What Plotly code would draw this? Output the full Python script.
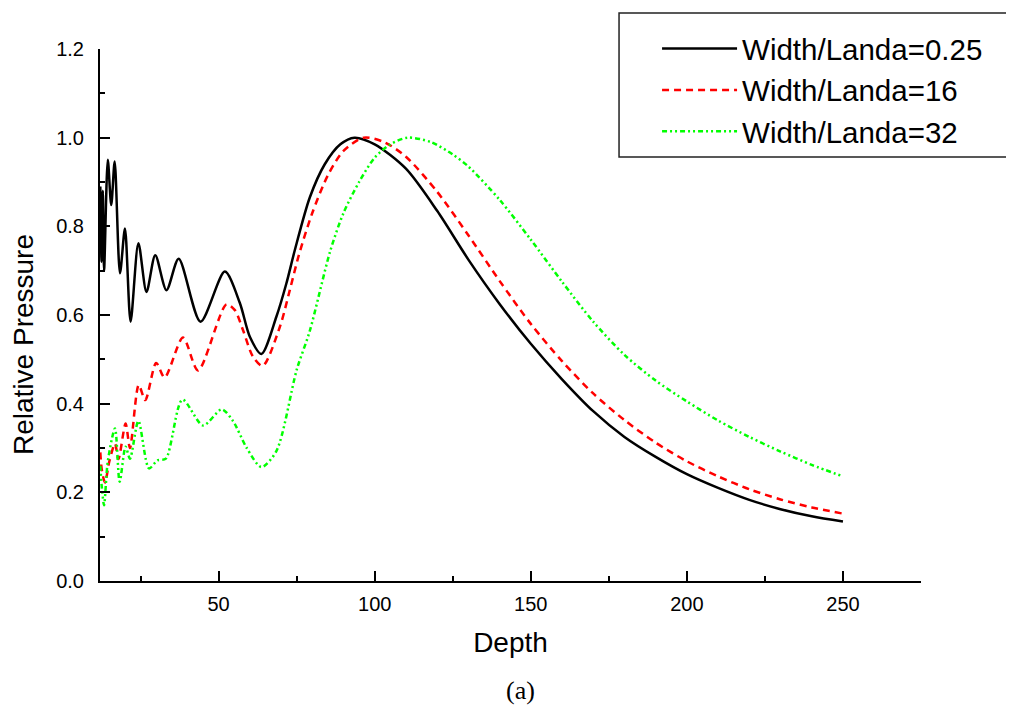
import plotly.graph_objects as go

# Width/Landa = 0.25 (black, solid)
depth_w025 = [12.1, 12.5, 12.9, 13.3, 14.5, 15.6, 16.7, 18.4, 20.0, 21.8, 24.3, 26.9, 29.7,
              33.3, 37.2, 44.2, 52.0, 56.8, 60.0, 63.7, 68.5, 71.7, 74.4, 79.2, 84.0, 89.0,
              93.5, 100, 110, 120, 130, 140, 150, 160, 170, 180, 190, 200, 210, 220, 230, 240, 250]
pressure_w025 = [0.89, 0.72, 0.88, 0.70, 0.95, 0.848, 0.946, 0.694, 0.795, 0.585, 0.762, 0.652, 0.735,
                 0.656, 0.727, 0.585, 0.698, 0.627, 0.551, 0.512, 0.596, 0.671, 0.746, 0.865, 0.94, 0.985,
                 1.0, 0.985, 0.93, 0.835, 0.725, 0.625, 0.535, 0.455, 0.383, 0.325, 0.28, 0.241,
                 0.21, 0.183, 0.162, 0.146, 0.134]

# Width/Landa = 16 (red, dashed)
depth_w16 = [12.1, 12.6, 13.6, 15.0, 16.8, 17.9, 20.2, 21.6, 24.4, 26.5, 30.0, 32.7, 38.6,
             43.4, 52.5, 55.2, 57.8, 61.0, 64.1, 69.6, 72.8, 75.7, 80, 85, 90, 96.5,
             103, 110, 120, 130, 140, 150, 160, 170, 180, 190, 200, 210, 220, 230, 240, 250]
pressure_w16 = [0.29, 0.25, 0.222, 0.27, 0.31, 0.275, 0.355, 0.30, 0.442, 0.408, 0.492, 0.459, 0.549,
                0.475, 0.624, 0.611, 0.566, 0.506, 0.485, 0.573, 0.656, 0.735, 0.83, 0.915, 0.97, 1.0,
                0.99, 0.957, 0.878, 0.78, 0.677, 0.58, 0.496, 0.423, 0.363, 0.312, 0.27, 0.236,
                0.207, 0.184, 0.166, 0.152]

# Width/Landa = 32 (green, dash-dot-dot)
depth_w32 = [12.1, 12.6, 13.3, 14.5, 16.8, 18.3, 20.2, 21.6, 24.3, 27.7, 30.4, 33.1, 38.4,
             45.0, 51.0, 54.6, 59.0, 63.7, 68.5, 75.0, 79.2, 85.7, 90, 95, 100, 105,
             110.5, 118, 125, 130, 140, 150, 160, 170, 180, 190, 200, 210, 220, 230, 240, 250]
pressure_w32 = [0.26, 0.21, 0.171, 0.27, 0.344, 0.224, 0.303, 0.276, 0.361, 0.254, 0.272, 0.276, 0.409,
                0.351, 0.387, 0.361, 0.30, 0.257, 0.293, 0.476, 0.564, 0.743, 0.83, 0.90, 0.955, 0.985,
                1.0, 0.99, 0.962, 0.935, 0.86, 0.77, 0.675, 0.585, 0.51, 0.452, 0.405, 0.362,
                0.325, 0.292, 0.262, 0.236]

series = [
    ('Width/Landa=0.25', depth_w025, pressure_w025, '#000000', 'solid'),
    ('Width/Landa=16', depth_w16, pressure_w16, '#FF0000', '7px,5px'),
    ('Width/Landa=32', depth_w32, pressure_w32, '#00FF00', '5px,3px,2px,3px,2px,3px'),
]

FONT = 'Liberation Sans, Arial, sans-serif'

fig = go.Figure()
for name, xs, ys, color, dash in series:
    fig.add_trace(go.Scatter(
        x=xs, y=ys, name=name, mode='lines',
        line=dict(color=color, width=2.5, dash=dash, shape='spline', smoothing=0.8),
    ))

# the page body has an 8px margin, so margins are shifted by 8px
fig.update_layout(
    width=1014, height=714,
    margin=dict(l=92, r=101, t=41, b=141),
    paper_bgcolor='white', plot_bgcolor='white',
    font=dict(family=FONT, color='black'),
    legend=dict(
        x=0.6785, y=1.049, xanchor='left', yanchor='top',
        borderwidth=0, bgcolor='rgba(0,0,0,0)',
        font=dict(size=29.5, family=FONT), itemwidth=75,
    ),
    shapes=[
        # legend frame
        dict(type='rect', xref='paper', yref='paper', x0=0.6322, x1=1.1108, y0=0.797, y1=1.0677,
             line=dict(color='#222222', width=1.5), fillcolor='rgba(0,0,0,0)', layer='below'),
    ],
    annotations=[
        dict(text='Relative Pressure', textangle=-90, x=-0.0926, y=0.4455,
             xref='paper', yref='paper', xanchor='center', yanchor='middle', showarrow=False,
             font=dict(size=28, family=FONT)),
        dict(text='(a)', x=0.5116, y=-0.205, xref='paper', yref='paper',
             xanchor='center', yanchor='middle', showarrow=False,
             font=dict(size=26, family='Liberation Serif, Times New Roman, serif')),
    ],
)

fig.update_xaxes(
    range=[12, 275], tickmode='linear', tick0=0, dtick=50,
    ticks='inside', ticklen=10, tickwidth=2, tickcolor='black',
    showline=True, linewidth=2, linecolor='black', showgrid=False, zeroline=False,
    minor=dict(ticks='inside', ticklen=5, tickwidth=2, tickcolor='black', dtick=25, tick0=0, showgrid=False),
    tickfont=dict(size=20, family=FONT), ticklabelstandoff=4,
    title=dict(text='Depth', font=dict(size=28, family=FONT), standoff=18),
)
fig.update_yaxes(
    range=[0, 1.2], tickmode='linear', tick0=0, dtick=0.2, tickformat='.1f',
    ticks='inside', ticklen=10, tickwidth=2, tickcolor='black',
    showline=True, linewidth=2, linecolor='black', showgrid=False, zeroline=False,
    minor=dict(ticks='inside', ticklen=5, tickwidth=2, tickcolor='black', dtick=0.1, tick0=0, showgrid=False),
    tickfont=dict(size=20, family=FONT), ticklabelstandoff=10,
)

fig.write_html("out.html")
